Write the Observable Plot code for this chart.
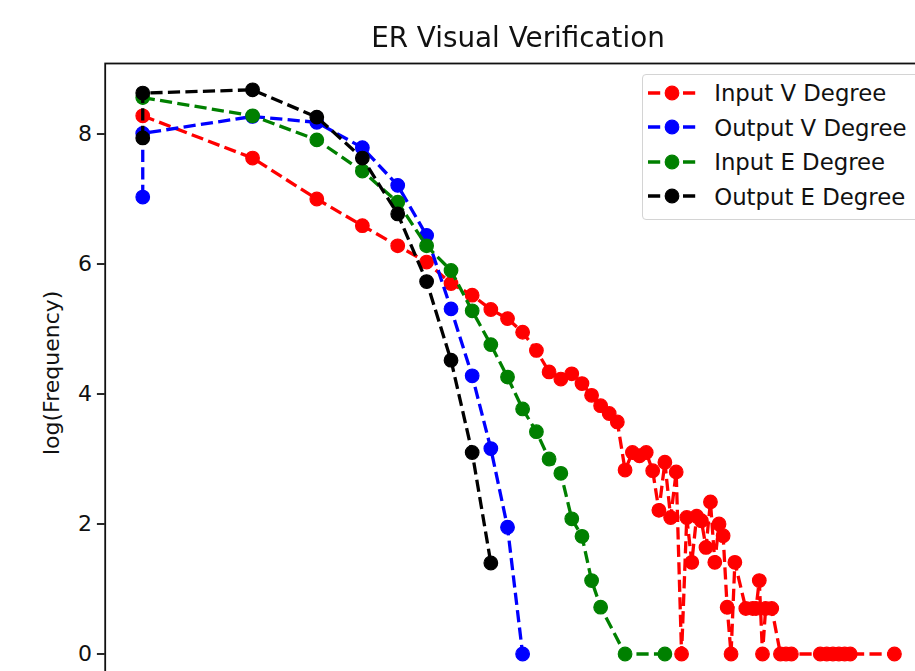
<!DOCTYPE html>
<html>
<head>
<meta charset="utf-8">
<script src="https://cdn.jsdelivr.net/npm/d3@7"></script>
<script src="https://cdn.jsdelivr.net/npm/@observablehq/plot@0.6"></script>
<style>
html, body { margin: 0; padding: 0; overflow: hidden; background: #fff; }
#wrap { position: relative; width: 936px; font-family: "DejaVu Sans", sans-serif; color: #111; filter: blur(0.6px); }
#title { position: relative; height: 52px; }
#title span { position: absolute; left: 105px; width: 826px; top: 23.8px; text-align: center;
  font-size: 27.8px; line-height: 27.8px; color: #111; white-space: nowrap; }
#legend { position: absolute; left: 641.7px; top: 74px; width: 278.8px; height: 146px; box-sizing: border-box;
  border: 1.8px solid #d4d4d4; border-radius: 4px; background: rgba(255,255,255,0.8); }
.row { position: absolute; left: 0; width: 100%; height: 34px; }
.row svg { position: absolute; left: 5.5px; top: 0; }
.row span { position: absolute; left: 71.5px; top: 0.5px; line-height: 34px; font-size: 22.8px; white-space: nowrap; color: #111; }
</style>
</head>
<body>
<div id="wrap"><div id="title"><span id="titleText"></span></div></div>
<script>
const titleText = "ER Visual Verification";
const yLabel = "log(Frequency)";
const yTicks = [0, 2, 4, 6, 8];

const seriesNames = ["Input V Degree", "Output V Degree", "Input E Degree", "Output E Degree"];
const seriesColors = ["#ff0000", "#0000ff", "#008000", "#000000"];

// degree values (x axis is log(degree); degree 0 drawn at log 0)
const inputVDegree = [1,2,3,4,5,6,7,8,9,10,11,12,13,14,15,16,17,18,19,20,21,22,23,24,25,26,27,28,29,30,31,32,33,34,35,36,37,38,39,40,41,42,45,47,48,49,50,51,53,56,58,60,72,75,78,81,84,87,115];
const inputVLogFreq = [8.28,7.63,7.00,6.59,6.28,6.03,5.70,5.52,5.30,5.16,
  4.95,4.67,4.34,4.23,4.31,4.16,3.98,3.82,3.70,3.57,
  2.83,3.10,3.05,3.10,2.82,2.21,2.95,2.10,2.80,0,
  2.10,1.41,2.12,2.05,1.64,2.34,1.41,2.00,1.82,0.72,
  0,1.41,0.70,0.70,0.70,1.13,0,0.70,0.70,0,0,0,0,0,0,0,0,0,0];

const outputVDegree = [0,1,2,3,4,5,6,7,8,9,10,11];
const outputVLogFreq = [7.03,8.01,8.27,8.18,7.79,7.21,6.44,5.31,4.28,3.16,1.95,0];

const inputEDegree = [1,2,3,4,5,6,7,8,9,10,11,12,13,14,15,16,17,18,21,27];
const inputELogFreq = [8.56,8.28,7.91,7.43,6.95,6.28,5.90,5.28,4.76,4.26,3.77,3.42,3.00,2.78,2.08,1.81,1.13,0.72,0,0];

const outputEDegree = [0,1,2,3,4,5,6,7,8,9];
const outputELogFreq = [7.94,8.63,8.68,8.26,7.63,6.77,5.73,4.52,3.10,1.40];

const degrees = [inputVDegree, outputVDegree, inputEDegree, outputEDegree];
const values = [inputVLogFreq, outputVLogFreq, inputELogFreq, outputELogFreq];

const logDeg = d => Math.log(Math.max(d, 1));
const dash = "12.2,5.3";

const marks = [];
seriesNames.forEach((name, k) => {
  const data = degrees[k].map((d, i) => ({x: logDeg(d), y: values[k][i], series: name}));
  marks.push(Plot.line(data, {x: "x", y: "y", stroke: seriesColors[k], strokeWidth: 3.3,
    strokeDasharray: dash, strokeLinecap: "butt", strokeLinejoin: "round"}));
  marks.push(Plot.dot(data, {x: "x", y: "y", r: 6.8, fill: seriesColors[k], stroke: seriesColors[k], strokeWidth: 1.2}));
});

marks.push(Plot.axisY({ticks: yTicks, tickSize: 7.8, tickPadding: 5.5, fontSize: 22, strokeWidth: 1.8, tickFormat: d => String(d), label: null}));
marks.push(Plot.text([yLabel], {text: d => d, frameAnchor: "left", dx: -53, rotate: -90, fontSize: 22, textAnchor: "middle", lineAnchor: "middle"}));
marks.push(Plot.frame({stroke: "#111", strokeWidth: 1.8}));

const chart = Plot.plot({
  width: 936,
  height: 670,
  marginLeft: 104.7,
  marginRight: 4.5,
  marginTop: 11,
  marginBottom: 40.3,
  style: {fontFamily: "DejaVu Sans, sans-serif", background: "white", color: "#111", overflow: "visible"},
  x: {domain: [-0.237, 4.982], axis: null},
  y: {domain: [-0.434, 9.085], axis: null},
  marks
});

document.getElementById("titleText").textContent = titleText;
const wrap = document.getElementById("wrap");
wrap.appendChild(chart);

// legend
const legend = document.createElement("div");
legend.id = "legend";
const rowTops = [0.5, 35, 69.5, 104];
seriesNames.forEach((name, k) => {
  const row = document.createElement("div");
  row.className = "row";
  row.style.top = rowTops[k] + "px";
  const c = seriesColors[k];
  row.innerHTML = `<svg width="48" height="34"><line x1="0" y1="17" x2="48" y2="17" stroke="${c}" stroke-width="3.3" stroke-dasharray="${dash}"/><circle cx="24" cy="17" r="6.8" fill="${c}" stroke="${c}" stroke-width="1.2"/></svg>`;
  const span = document.createElement("span");
  span.textContent = name;
  row.appendChild(span);
  legend.appendChild(row);
});
wrap.appendChild(legend);
</script>
</body>
</html>
